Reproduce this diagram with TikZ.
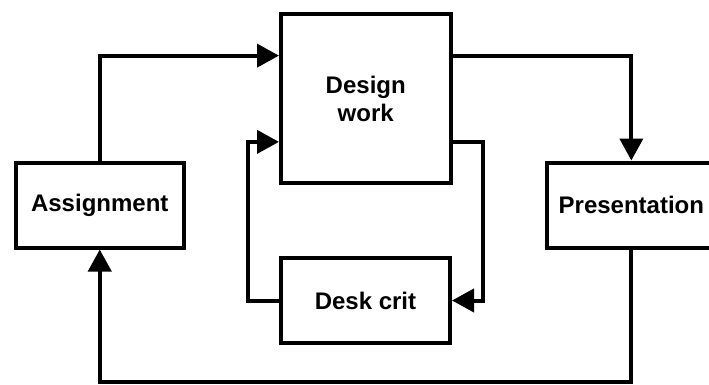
\documentclass[tikz,border=0pt]{standalone}
\usepackage{fontspec}
\setmainfont{Liberation Sans}
\usetikzlibrary{arrows.meta,calc}
\begin{document}
\begin{tikzpicture}[x=1pt,y=-1pt,
  box/.style={draw=black,line width=4pt,inner sep=0pt,align=center,
    font=\fontsize{24pt}{28pt}\selectfont\bfseries},
  arr/.style={draw=black,line width=4pt,-{Triangle[length=22pt,width=23pt]}}]
\useasboundingbox (0,0) rectangle (709,385);
\node[box,minimum width=168.5pt,minimum height=85pt] (as) at (99.75,205) {Assignment};
\node[box,minimum width=169.5pt,minimum height=168.5pt] (dw) at (365.75,98.75) {Design\\work};
\node[box,minimum width=169pt,minimum height=84.4pt] (dc) at (365.5,300.5) {Desk crit};
\node[box,minimum width=169.3pt,minimum height=85pt] (pr) at (631.35,205) {Presentation};
\coordinate (rr) at (483.3,0);
\coordinate (ll) at (248.3,0);
\coordinate (bb) at (0,382.3);
\coordinate (dwl1) at ($(dw.north west)!0.25!(dw.south west)$);
\coordinate (dwl2) at ($(dw.north west)!0.75!(dw.south west)$);
\coordinate (dwr1) at ($(dw.north east)!0.25!(dw.south east)$);
\coordinate (dwr2) at ($(dw.north east)!0.75!(dw.south east)$);
\draw[arr] (as.north) |- (dwl1);
\draw[arr] (dwr1) -| (pr.north);
\draw[arr] (dwr2) -| (rr |- dc.east) -- (dc.east);
\draw[arr] (dc.west) -| (ll |- dwl2) -- (dwl2);
\draw[arr] (pr.south) |- (bb -| as.south) -- (as.south);
\end{tikzpicture}
\end{document}
